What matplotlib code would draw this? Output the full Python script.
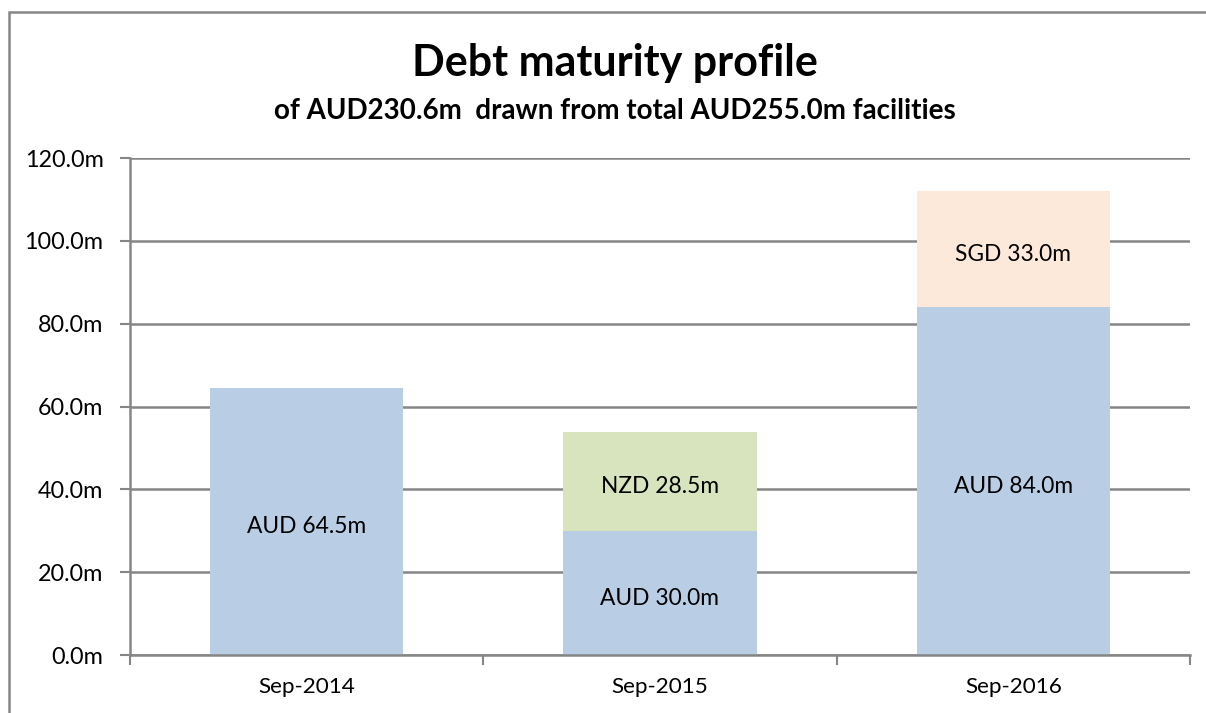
import matplotlib.pyplot as plt
import numpy as np
from matplotlib.patches import Rectangle

plt.rcParams['font.family'] = ['Lato', 'DejaVu Sans']

# Data (AUD millions, non-AUD tranches shown at AUD equivalent height)
categories = ["Sep-2014", "Sep-2015", "Sep-2016"]
aud_values = [64.5, 30.0, 84.0]
nzd_values = [0.0, 23.9, 0.0]
sgd_values = [0.0, 0.0, 28.0]
aud_labels = ["AUD 64.5m", "AUD 30.0m", "AUD 84.0m"]
nzd_labels = ["", "NZD 28.5m", ""]
sgd_labels = ["", "", "SGD 33.0m"]

blue = "#B9CDE5"
green = "#D7E4BD"
peach = "#FDE9D9"
grey = "#868686"

fig = plt.figure(figsize=(12.06, 7.13), dpi=100)
ax = fig.add_axes([130/1206, 1 - 655/713, 1060/1206, 497/713])

x = np.arange(len(categories))
width = 0.547

b1 = ax.bar(x, aud_values, width, color=blue, zorder=2)
b2 = ax.bar(x, nzd_values, width, bottom=aud_values, color=green, zorder=2)
bottom3 = np.array(aud_values) + np.array(nzd_values)
b3 = ax.bar(x, sgd_values, width, bottom=bottom3, color=peach, zorder=2)

# labels in the middle of each segment
for bars, labels in [(b1, aud_labels), (b2, nzd_labels), (b3, sgd_labels)]:
    for bar, lab in zip(bars, labels):
        if lab:
            ax.annotate(lab, (bar.get_x() + bar.get_width()/2, bar.get_y() + bar.get_height()/2),
                        xytext=(0, -4), textcoords='offset points',
                        ha='center', va='center', fontsize=16.4, color='black', zorder=3)

ax.set_xlim(-0.5, 2.5)
ax.set_ylim(0, 120)
ax.set_yticks(np.arange(0, 121, 20))
ax.set_yticklabels([f"{v:.1f}m" for v in np.arange(0, 121, 20)], fontsize=16.8)
ax.set_xticks(x)
ax.set_xticklabels(categories, fontsize=16.2)
ax.set_xticks([-0.5, 0.5, 1.5, 2.5], minor=True)
ax.tick_params(axis='x', which='major', length=0, pad=16)
ax.tick_params(axis='x', which='minor', length=7, width=1.5, color=grey)
ax.tick_params(axis='y', length=7, width=1.5, color=grey, pad=12)

ax.grid(axis='y', color=grey, linewidth=1.8, zorder=0)
for s in ['top', 'right']:
    ax.spines[s].set_visible(False)
for s in ['left', 'bottom']:
    ax.spines[s].set_color(grey)
    ax.spines[s].set_linewidth(1.8)

fig.text(615/1206, 1 - 63/713, "Debt maturity profile", ha='center', va='center',
         fontsize=31, fontweight='bold')
fig.text(615/1206, 1 - 111/713, "of AUD230.6m  drawn from total AUD255.0m facilities",
         ha='center', va='center', fontsize=20, fontweight='bold')

# outer chart border
fig.add_artist(Rectangle((9/1206, -0.05), 1.1, 1 - 12/713 + 0.05, transform=fig.transFigure,
                         fill=False, edgecolor=grey, linewidth=1.8))

plt.savefig("out.png", dpi=100)
